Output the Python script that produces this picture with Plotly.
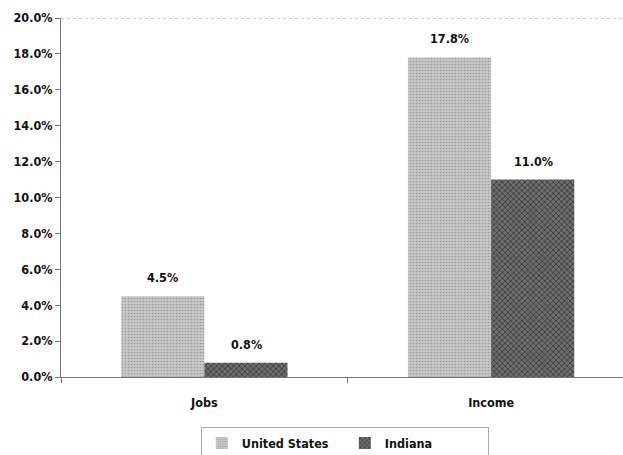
import plotly.graph_objects as go

categories = ["Jobs", "Income"]
us_values = [4.5, 17.8]
indiana_values = [0.8, 11.0]
tick_vals = [0, 2, 4, 6, 8, 10, 12, 14, 16, 18, 20]

FONT = "DejaVu Sans Condensed, Liberation Sans Narrow, Arial Narrow, sans-serif"

fig = go.Figure()
fig.add_trace(go.Bar(
    name="United States", x=categories, y=us_values,
    marker=dict(color="#bcbcbc", line=dict(width=0),
                pattern=dict(shape=".", size=3, solidity=0.25, fgcolor="#9a9a9a", bgcolor="#c8c8c8", fillmode="replace")),
))
fig.add_trace(go.Bar(
    name="Indiana", x=categories, y=indiana_values,
    marker=dict(color="#555555", line=dict(width=0),
                pattern=dict(shape="x", size=4, solidity=0.35, fgcolor="#333333", bgcolor="#6e6e6e", fillmode="replace")),
))

# value labels above bars
for vals, shift in ((us_values, -42), (indiana_values, 42)):
    for c, v in zip(categories, vals):
        fig.add_annotation(x=c, y=v, xref="x", yref="y", text=f"<b>{v:.1f}%</b>",
                           showarrow=False, xshift=shift, yshift=9, yanchor="bottom",
                           font=dict(size=12.5, color="#111", family=FONT))

fig.add_shape(type="line", xref="paper", yref="y", x0=0, x1=1, y0=20, y1=20,
              line=dict(color="#999", width=1, dash="dot"))

fig.update_layout(
    width=623, height=455,
    margin=dict(l=61, r=0, t=18, b=78, autoexpand=False),
    paper_bgcolor="white", plot_bgcolor="white",
    barmode="group", bargap=0.42, bargroupgap=0,
    font=dict(family=FONT, size=12.5, color="#111"),
    showlegend=True,
    legend=dict(orientation="h", x=0.505, xanchor="center", y=-0.14, yanchor="top",
                bordercolor="#aaa", borderwidth=1, font=dict(size=12.5, family=FONT),
                entrywidth=98, tracegroupgap=0),
)
fig.update_yaxes(range=[0, 20], tickvals=tick_vals, automargin=False,
                 ticktext=[f"<b>{v:.1f}%</b>" for v in tick_vals],
                 showgrid=False, zeroline=False, showline=True, linecolor="#777", linewidth=1,
                 ticks="outside", ticklen=5, tickcolor="#777", tickfont=dict(size=12.5))
fig.update_xaxes(range=[-0.5, 1.46], showline=True, linecolor="#777", linewidth=1, showgrid=False,
                 automargin=False, ticks="outside", ticklen=5, tickcolor="#777", tickson="boundaries",
                 ticklabelstandoff=14,
                 ticktext=["<b>Jobs</b>", "<b>Income</b>"], tickvals=categories,
                 tickfont=dict(size=12.5))
for tr in fig.data:
    tr.name = f"<b>{tr.name}</b>"

fig.write_html("out.html", config={"displayModeBar": False},
               post_script="document.body.style.margin='0';document.body.style.overflow='hidden';")
